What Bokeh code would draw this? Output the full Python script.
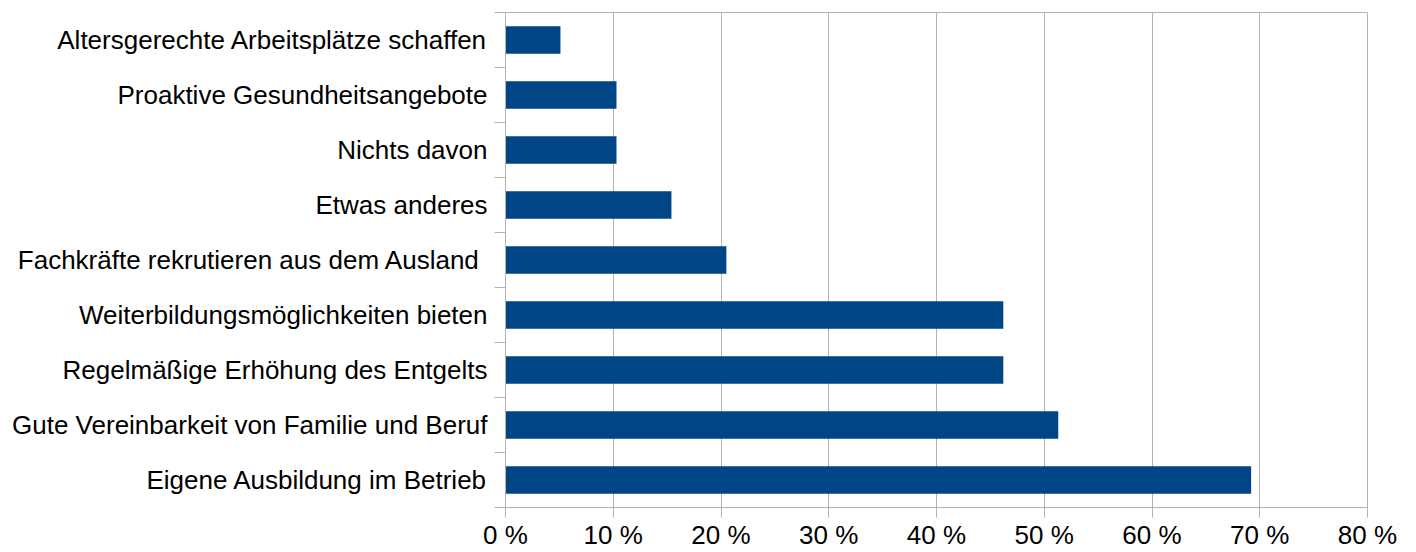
from bokeh.plotting import figure
from bokeh.models import FixedTicker, Range1d
from bokeh.embed import file_html
from bokeh.resources import INLINE

categories = [
    "Altersgerechte Arbeitsplätze schaffen",
    "Proaktive Gesundheitsangebote",
    "Nichts davon",
    "Etwas anderes",
    "Fachkräfte rekrutieren  aus dem Ausland",
    "Weiterbildungsmöglichkeiten bieten",
    "Regelmäßige Erhöhung des Entgelts",
    "Gute Vereinbarkeit von Familie und Beruf",
    "Eigene Ausbildung im Betrieb",
]
values = [5.1, 10.3, 10.3, 15.4, 20.5, 46.2, 46.2, 51.3, 69.2]
x_ticks = [0, 10, 20, 30, 40, 50, 60, 70, 80]
x_tick_labels = ["0 %", "10 %", "20 %", "30 %", "40 %", "50 %", "60 %", "70 %", "80 %"]

n = len(categories)
ypos = [n - i for i in range(n)]  # top category at top

GRAY = "#b3b3b3"
FONT = "Liberation Sans"

p = figure(width=1416, height=552, output_backend="svg", toolbar_location=None,
           x_range=Range1d(0, 80), y_range=Range1d(0.5, n + 0.5),
           min_border_left=505, min_border_right=49, min_border_top=12, min_border_bottom=45)

p.hbar(y=ypos, right=values, left=0, height=0.5, color="#004586", line_color=None)

p.outline_line_color = GRAY
p.outline_line_width = 1

p.ygrid.grid_line_color = None
p.xgrid.grid_line_color = GRAY
p.xgrid.ticker = FixedTicker(ticks=x_ticks)

# x axis
xa = p.xaxis[0]
xa.ticker = FixedTicker(ticks=x_ticks)
xa.major_label_overrides = {t: l for t, l in zip(x_ticks, x_tick_labels)}
xa.axis_line_color = GRAY
xa.major_tick_line_color = GRAY
xa.major_tick_out = 10
xa.major_tick_in = 0
xa.minor_tick_line_color = None
xa.major_label_text_font = FONT
xa.major_label_text_font_size = "26px"
xa.major_label_text_color = "black"
xa.major_label_standoff = 2

# y axis
ya = p.yaxis[0]
ya.ticker = FixedTicker(ticks=ypos, minor_ticks=[k + 0.5 for k in range(n + 1)])
ya.major_label_overrides = {y: c for y, c in zip(ypos, categories)}
ya.axis_line_color = GRAY
ya.major_tick_line_color = None
ya.major_tick_out = 0
ya.major_tick_in = 0
ya.minor_tick_line_color = GRAY
ya.minor_tick_out = 11
ya.minor_tick_in = 0
ya.major_label_text_font = FONT
ya.major_label_text_font_size = "26px"
ya.major_label_text_color = "black"
ya.major_label_standoff = 7

open("out.html", "w").write(file_html(p, INLINE))
